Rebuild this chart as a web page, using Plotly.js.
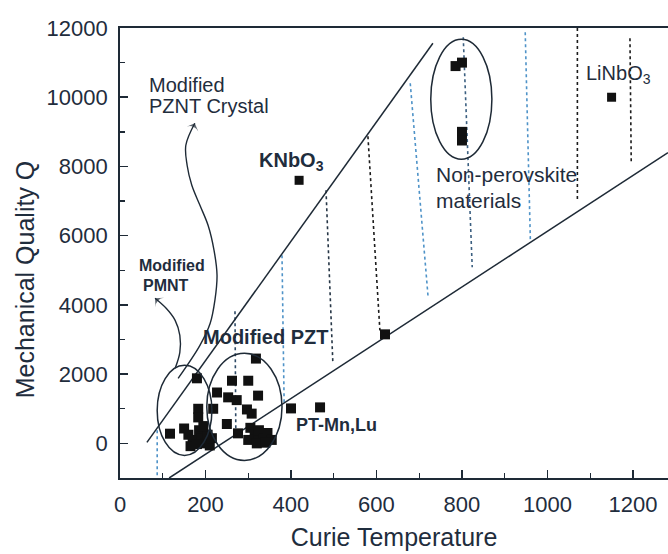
<!DOCTYPE html>
<html>
<head>
<meta charset="utf-8">
<script src="https://cdn.plot.ly/plotly-3.0.1.min.js"></script>
<style>html,body{margin:0;padding:0;background:#fff;overflow:hidden}</style>
</head>
<body>
<div id="chart" style="width:668px;height:554px"></div>
<script>
// ---- data ----
const pztX = [318,180,262,300,227,253,273,323,297,308,218,183,183,250,276,117,
              150,160,170,165,185,190,200,205,210,180,195,215,
              305,315,300,325,335,345,355,320,340];
const pztY = [2450,1880,1810,1810,1470,1330,1250,1380,980,860,1000,1000,750,560,290,280,
              430,250,100,-80,380,150,0,250,-60,-20,500,150,
              450,250,100,380,150,300,100,0,20];
const knbX = [419];      const knbY = [7600];
const linbX = [1150];    const linbY = [10000];
const nonPerovX = [785,800,800,800];
const nonPerovY = [10900,11000,9000,8750];
const otherX = [620,400,468];
const otherY = [3150,1010,1040];

// boundary lines
const upperLineX = [63,732];   const upperLineY = [30,11560];
const lowerLineX = [115,1282]; const lowerLineY = [-1000,8400];

// dotted hatch lines between boundaries
const hatchX0 = [87,269,379,482,580,679,803,948,1070,1193];
const hatchY0 = [376,3815,5434,7312,8873,10405,11734,11879,12000,11705];
const hatchX1 = [87,271,384,498,608,721,824,960,1070,1196];
const hatchY1 = [-1000,231,1156,2312,3266,4191,5087,5867,7023,8092];
const hatchCol = ['#4f93c8','#2e4a66','#4f93c8','#263646','#1c1c1c','#4f93c8','#3b5f80','#4f93c8','#1c1c1c','#1c1c1c'];

// ellipses [x0,x1,y0,y1]
const ellPMNT = [87,215,-347,2254];
const ellPZT = [203,379,-491,2601];
const ellNonPerov = [727,870,8208,11676];

// guide curves (first point is the arrow tip)
const pzntCurveX = [175,154,157,168,187,206,220,227,222,211,187,136];
const pzntCurveY = [9249,8613,8035,7457,6879,6301,5578,4855,4133,3468,2832,1879];
const pmntCurveX = [82,108,129,140,140,129];
const pmntCurveY = [4191,3902,3555,3121,2630,2168];

const xTicks = [0,200,400,600,800,1000,1200];
const yTicks = [0,2000,4000,6000,8000,10000,12000];

const ink = '#1f2d3d';
const lineInk = '#1e2a36';
const font = 'Liberation Sans, Arial, sans-serif';

const traces = [];
for (let i = 0; i < hatchX0.length; i++) {
  traces.push({x:[hatchX0[i],hatchX1[i]], y:[hatchY0[i],hatchY1[i]], mode:'lines',
    line:{color:hatchCol[i], width:1.6, dash:'dot'}, hoverinfo:'skip'});
}
traces.push({x:upperLineX, y:upperLineY, mode:'lines', line:{color:lineInk, width:1.5}});
traces.push({x:lowerLineX, y:lowerLineY, mode:'lines', line:{color:lineInk, width:1.5}});
traces.push({x:pzntCurveX, y:pzntCurveY, mode:'lines', line:{color:lineInk, width:1.4, shape:'spline'}});
traces.push({x:pmntCurveX, y:pmntCurveY, mode:'lines', line:{color:lineInk, width:1.4, shape:'spline'}});
// arrowheads at curve tips
function arrowHead(cx, cy){
  return {x:[cx[1], cx[0]], y:[cy[1], cy[0]], mode:'markers',
    marker:{symbol:'arrow-wide', angleref:'previous', size:[0,9], color:lineInk, line:{width:0}}};
}
traces.push(arrowHead(pzntCurveX, pzntCurveY));
traces.push(arrowHead(pmntCurveX, pmntCurveY));

const mk = {symbol:'square', size:10, color:'#111'};
traces.push({x:pztX, y:pztY, mode:'markers', marker:mk, name:'Modified PZT'});
traces.push({x:knbX, y:knbY, mode:'markers', marker:{...mk, size:9}, name:'KNbO3'});
traces.push({x:linbX, y:linbY, mode:'markers', marker:{...mk, size:9}, name:'LiNbO3'});
traces.push({x:nonPerovX, y:nonPerovY, mode:'markers', marker:mk, name:'Non-perovskite'});
traces.push({x:otherX, y:otherY, mode:'markers', marker:mk, name:'other'});

function ell(e){ return {type:'circle', xref:'x', yref:'y', x0:e[0], x1:e[1], y0:e[2], y1:e[3],
  line:{color:lineInk, width:1.5}}; }

function txt(t, x, y, size, bold){
  return {text: bold ? '<b>'+t+'</b>' : t, x:x, y:y, xref:'x', yref:'y', xanchor:'left', yanchor:'middle',
    showarrow:false, font:{family:font, size:size, color:ink}};
}

const annotations = [
  txt('Modified', 64, 10347, 20, false),
  txt('PZNT Crystal', 64, 9740, 20, false),
  txt('KNbO<sub>3</sub>', 321, 8150, 20, true),
  txt('LiNbO<sub>3</sub>', 1086, 10650, 20, false),
  txt('Non-perovskite', 735, 7775, 21, false),
  txt('materials', 735, 7023, 21, false),
  txt('Modified', 40, 5145, 16, true),
  txt('PMNT', 50, 4566, 16, true),
  txt('Modified PZT', 190, 3064, 20, true),
  txt('PT-Mn,Lu', 407, 520, 18, true),
  {text:'Mechanical Quality Q', xref:'paper', yref:'paper', x:-0.173, y:0.442, textangle:-90,
   xanchor:'center', yanchor:'middle', showarrow:false, font:{family:font, size:25, color:ink}}
];

const layout = {
  width:668, height:554,
  margin:{l:120, r:0, t:28, b:76},
  paper_bgcolor:'#fff', plot_bgcolor:'#fff',
  showlegend:false,
  xaxis:{range:[0,1282], tickvals:xTicks, ticktext:xTicks.map(String),
    ticks:'inside', ticklen:8, tickwidth:1.5, tickcolor:lineInk,
    minor:{ticks:'inside', ticklen:5, tickwidth:1.3, tickcolor:lineInk, dtick:100, tick0:0},
    showline:true, linecolor:lineInk, linewidth:1.8, mirror:true,
    showgrid:false, zeroline:false, ticklabelstandoff:6,
    tickfont:{family:font, size:22, color:ink},
    title:{text:'Curie Temperature', font:{family:font, size:25, color:ink}, standoff:12}},
  yaxis:{range:[-1000,12000], tickvals:yTicks, ticktext:yTicks.map(String),
    ticks:'inside', ticklen:8, tickwidth:1.5, tickcolor:lineInk,
    minor:{ticks:'inside', ticklen:5, tickwidth:1.3, tickcolor:lineInk, dtick:1000, tick0:0},
    showline:true, linecolor:lineInk, linewidth:1.8, mirror:false,
    showgrid:false, zeroline:false, ticklabelstandoff:6,
    tickfont:{family:font, size:22, color:ink}},
  shapes:[ell(ellPMNT), ell(ellPZT), ell(ellNonPerov)],
  annotations:annotations
};

Plotly.newPlot('chart', traces, layout, {displayModeBar:false, staticPlot:true});
</script>
</body>
</html>
